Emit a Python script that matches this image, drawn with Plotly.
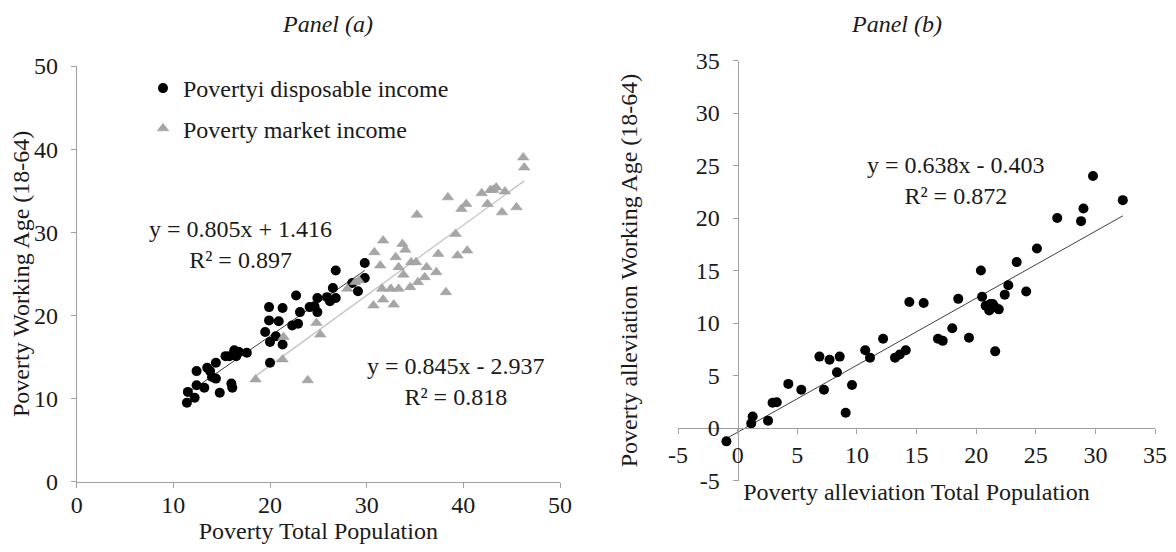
import plotly.graph_objects as go

# ---------------- data ----------------
# Panel (a)
disp_x = [11.4, 11.5, 12.2, 12.4, 12.4, 13.2, 13.5, 13.8, 14.0, 14.4, 14.4, 14.8, 15.4, 15.8, 16.0, 16.1,
          16.3, 16.5, 16.8, 17.6, 19.5, 19.9, 19.9, 20.0, 20.0, 20.6, 20.9, 21.3, 21.3, 22.3, 22.7, 22.9,
          23.1, 24.1, 24.6, 24.9, 24.9, 25.9, 26.2, 26.5, 26.8, 26.8, 28.5, 29.1, 29.8, 29.8]
disp_y = [9.5, 10.8, 10.1, 13.3, 11.6, 11.3, 13.7, 13.3, 12.6, 12.4, 14.3, 10.7, 15.1, 15.1, 11.8, 11.3,
          15.8, 15.1, 15.6, 15.5, 18.0, 19.4, 21.0, 16.8, 14.3, 17.5, 19.3, 20.9, 16.5, 18.8, 22.4, 19.0,
          20.4, 21.0, 21.1, 22.1, 20.4, 22.2, 21.7, 23.3, 25.4, 22.1, 23.9, 22.9, 26.3, 24.5]

mkt_x = [18.5, 21.3, 21.4, 23.9, 24.8, 25.2, 28.0, 28.8, 29.2, 30.7, 30.8, 31.4, 31.7, 31.6, 31.7, 32.5,
         32.8, 33.0, 33.3, 33.3, 33.7, 33.8, 34.0, 34.5, 34.6, 35.1, 35.2, 35.3, 36.0, 36.2, 37.2, 37.4,
         38.2, 38.4, 39.2, 39.4, 39.8, 40.3, 40.4, 41.9, 42.5, 42.8, 43.1, 43.4, 44.0, 44.3, 45.5, 46.2, 46.3]
mkt_y = [12.3, 14.7, 17.4, 12.2, 19.1, 17.7, 23.2, 24.0, 24.2, 21.2, 27.6, 26.0, 29.0, 23.2, 21.9, 23.2,
         21.3, 27.0, 23.2, 25.8, 28.6, 24.9, 27.9, 23.4, 26.4, 26.4, 32.1, 24.0, 24.6, 25.8, 25.2, 27.4,
         22.8, 34.2, 29.8, 27.2, 32.8, 33.4, 27.8, 34.7, 33.4, 35.1, 35.1, 35.4, 32.4, 34.9, 33.0, 39.0, 37.8]

# Panel (b)
alv_x = [-0.94, 1.14, 1.26, 2.55, 2.93, 3.28, 4.25, 5.34, 6.86, 7.24, 7.71, 8.33, 8.56, 9.06, 9.59, 10.7,
         11.1, 12.2, 13.2, 13.6, 14.1, 14.4, 15.6, 16.8, 17.2, 18.0, 18.5, 19.4, 20.4, 20.5, 20.8, 21.1,
         21.2, 21.4, 21.6, 21.6, 21.9, 22.4, 22.7, 23.4, 24.2, 25.1, 26.8, 28.8, 29.0, 29.8, 32.3]
alv_y = [-1.27, 0.44, 1.1, 0.7, 2.4, 2.45, 4.2, 3.65, 6.8, 3.65, 6.5, 5.3, 6.8, 1.46, 4.1, 7.4,
         6.7, 8.5, 6.7, 7.0, 7.4, 12.0, 11.9, 8.5, 8.3, 9.5, 12.3, 8.6, 15.0, 12.5, 11.65, 11.2,
         11.8, 11.8, 7.3, 11.5, 11.3, 12.7, 13.6, 15.8, 13.0, 17.1, 20.0, 19.7, 20.9, 24.0, 21.7]

# trendline coefficients (slope, intercept, R²) as printed on the chart
fit_disp = [0.805, 1.416, 0.897]
fit_mkt = [0.845, -2.937, 0.818]
fit_alv = [0.638, -0.403, 0.872]

names = ["Povertyi disposable income", "Poverty market income"]
titles = ["Panel (a)", "Panel (b)"]
a_ticks = [0, 10, 20, 30, 40, 50]
b_ticks = [-5, 0, 5, 10, 15, 20, 25, 30, 35]
b_ticktext = ["-5", "0", "5", "10", "15", "20", "25", "30", "35"]

# ---------------- styling ----------------
PAGE_W, PAGE_H, BODY = 1176, 552, 8      # browser window and default page margin
W, H = PAGE_W - 2 * BODY, PAGE_H - 2 * BODY
FONT = "Liberation Serif"
TXT = "#1a1a1a"
AX = "#a0a0a0"
FS = 24


def fx(p):
    """screen x pixel -> paper fraction"""
    return (p - BODY) / W


def fy(p):
    """screen y pixel (from top) -> paper fraction"""
    return 1 - (p - BODY) / H


xa_dom = [fx(76.7), fx(560)]
ya_dom = [fy(481.7), fy(66)]
xb_dom = [fx(678), fx(1155)]
yb_dom = [fy(480.5), fy(60.5)]
b_range = [-5, 35]
# positions of the panel (b) axes at zero
xb_pos = yb_dom[0] + (0 - b_range[0]) / (b_range[1] - b_range[0]) * (yb_dom[1] - yb_dom[0])
yb_pos = xb_dom[0] + (0 - b_range[0]) / (b_range[1] - b_range[0]) * (xb_dom[1] - xb_dom[0])


def line_pts(xs, fit):
    x0, x1 = min(xs), max(xs)
    return [x0, x1], [fit[0] * x0 + fit[1], fit[0] * x1 + fit[1]]


def eq_text(fit):
    sign = "+" if fit[1] >= 0 else "-"
    return f"y = {fit[0]:.3f}x {sign} {abs(fit[1]):.3f}<br>R² = {fit[2]:.3f}"


fig = go.Figure()

# Panel (a) trendlines
lx, ly = line_pts(disp_x, fit_disp)
fig.add_trace(go.Scatter(x=lx, y=ly, mode="lines", line=dict(color="#404040", width=1),
                         showlegend=False, hoverinfo="skip", xaxis="x", yaxis="y"))
lx, ly = line_pts(mkt_x, fit_mkt)
fig.add_trace(go.Scatter(x=lx, y=ly, mode="lines", line=dict(color="#c4c4c4", width=1.3),
                         showlegend=False, hoverinfo="skip", xaxis="x", yaxis="y"))

# Panel (a) points
fig.add_trace(go.Scatter(x=disp_x, y=disp_y, mode="markers", name=names[0], legendgroup="g1",
                         marker=dict(symbol="circle", size=10, color="#000000"),
                         xaxis="x", yaxis="y"))
fig.add_trace(go.Scatter(x=mkt_x, y=mkt_y, mode="markers", name=names[1], legendgroup="g2",
                         marker=dict(symbol="triangle-up", size=10, color="#a6a6a6",
                                     line=dict(color="#999999", width=0.5)),
                         xaxis="x", yaxis="y"))

# Panel (b)
lx, ly = line_pts(alv_x, fit_alv)
fig.add_trace(go.Scatter(x=lx, y=ly, mode="lines", line=dict(color="#404040", width=1),
                         showlegend=False, hoverinfo="skip", xaxis="x2", yaxis="y2"))
fig.add_trace(go.Scatter(x=alv_x, y=alv_y, mode="markers", showlegend=False,
                         marker=dict(symbol="circle", size=10, color="#000000"),
                         xaxis="x2", yaxis="y2"))

axis_common = dict(showgrid=False, zeroline=False, showline=True, linecolor=AX, linewidth=1,
                   ticks="outside", ticklen=5, tickcolor=AX, tickwidth=1, automargin=False,
                   ticklabeloverflow="allow",
                   tickfont=dict(family=FONT, size=FS, color=TXT),
                   title_font=dict(family=FONT, size=FS, color=TXT))

annotations = []
for fit, x, y in [(fit_disp, 240, 244), (fit_mkt, 456, 381), (fit_alv, 956, 181)]:
    annotations.append(dict(text=eq_text(fit), x=fx(x), y=fy(y), xref="paper", yref="paper",
                            xanchor="center", yanchor="middle", align="center", showarrow=False,
                            font=dict(family=FONT, size=FS, color=TXT)))
for txt, x in [(titles[0], 327), (titles[1], 897)]:
    annotations.append(dict(text=f"<i>{txt}</i>", x=fx(x), y=fy(9), xref="paper", yref="paper",
                            xanchor="center", yanchor="top", showarrow=False,
                            font=dict(family=FONT, size=FS, color=TXT)))

fig.update_layout(
    template="none",
    width=W, height=H, margin=dict(l=0, r=0, t=0, b=0, autoexpand=False),
    paper_bgcolor="white", plot_bgcolor="white",
    font=dict(family=FONT, size=FS, color=TXT),
    xaxis=dict(domain=xa_dom, range=[0, 50], tickvals=a_ticks, anchor="y",
               title=dict(text="Poverty Total Population", standoff=7),
               ticklabelstandoff=-4, **axis_common),
    yaxis=dict(domain=ya_dom, range=[0, 50], tickvals=a_ticks, anchor="x",
               title=dict(text="Poverty Working Age (18-64)", standoff=10),
               ticklabelstandoff=8, **axis_common),
    xaxis2=dict(domain=xb_dom, range=b_range, tickvals=b_ticks, ticktext=b_ticktext,
                anchor="free", position=xb_pos,
                title=dict(text="Poverty alleviation Total Population", standoff=16),
                ticklabelstandoff=0, **axis_common),
    yaxis2=dict(domain=yb_dom, range=b_range, tickvals=b_ticks, ticktext=b_ticktext,
                anchor="free", position=yb_pos,
                title=dict(text="Poverty alleviation Working Age (18-64)", standoff=50),
                ticklabelstandoff=8, **axis_common),
    legend=dict(x=fx(143), y=fy(66), xanchor="left", yanchor="top",
                bgcolor="rgba(0,0,0,0)", tracegroupgap=6,
                font=dict(family=FONT, size=FS, color=TXT)),
    annotations=annotations,
    showlegend=True,
)

fig.write_html("out.html")
